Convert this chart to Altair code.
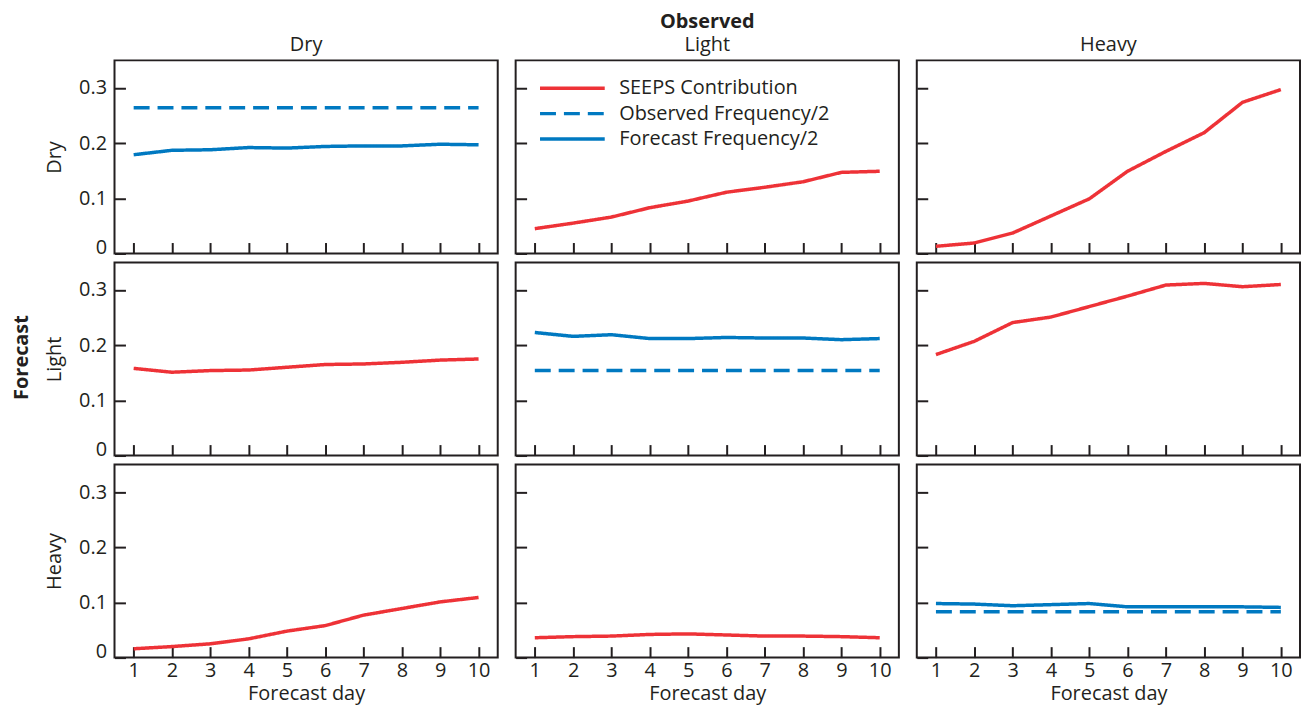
import altair as alt
import pandas as pd

# ---------------- data ----------------
days = [1, 2, 3, 4, 5, 6, 7, 8, 9, 10]
categories = ["Dry", "Light", "Heavy"]
series_names = ["SEEPS Contribution", "Observed Frequency/2", "Forecast Frequency/2"]
series_colors = ["#EE3237", "#0079C1", "#0079C1"]
series_dashes = [[1, 0], [16, 8], [1, 0]]
y_ticks = [0, 0.1, 0.2, 0.3]

# forecast Dry
dry_dry_obs = [0.264, 0.264, 0.264, 0.264, 0.264, 0.264, 0.264, 0.264, 0.264, 0.264]
dry_dry_fc = [0.179, 0.187, 0.188, 0.192, 0.191, 0.194, 0.195, 0.195, 0.198, 0.197]
dry_light_seeps = [0.045, 0.055, 0.066, 0.083, 0.095, 0.111, 0.120, 0.130, 0.147, 0.149]
dry_heavy_seeps = [0.013, 0.019, 0.037, 0.068, 0.099, 0.149, 0.185, 0.219, 0.274, 0.297]
# forecast Light
light_dry_seeps = [0.158, 0.151, 0.154, 0.155, 0.160, 0.165, 0.166, 0.169, 0.173, 0.175]
light_light_obs = [0.154, 0.154, 0.154, 0.154, 0.154, 0.154, 0.154, 0.154, 0.154, 0.154]
light_light_fc = [0.223, 0.216, 0.219, 0.212, 0.212, 0.214, 0.213, 0.213, 0.210, 0.212]
light_heavy_seeps = [0.183, 0.207, 0.241, 0.251, 0.270, 0.289, 0.309, 0.312, 0.306, 0.310]
# forecast Heavy
heavy_dry_seeps = [0.016, 0.020, 0.025, 0.034, 0.048, 0.058, 0.077, 0.089, 0.101, 0.109]
heavy_light_seeps = [0.036, 0.038, 0.039, 0.042, 0.043, 0.041, 0.039, 0.039, 0.038, 0.036]
heavy_heavy_obs = [0.083, 0.083, 0.083, 0.083, 0.083, 0.083, 0.083, 0.083, 0.083, 0.083]
heavy_heavy_fc = [0.098, 0.097, 0.094, 0.096, 0.098, 0.092, 0.092, 0.092, 0.092, 0.091]

panel_data = {
    ("Dry", "Dry"): {series_names[1]: dry_dry_obs, series_names[2]: dry_dry_fc},
    ("Dry", "Light"): {series_names[0]: dry_light_seeps},
    ("Dry", "Heavy"): {series_names[0]: dry_heavy_seeps},
    ("Light", "Dry"): {series_names[0]: light_dry_seeps},
    ("Light", "Light"): {series_names[1]: light_light_obs, series_names[2]: light_light_fc},
    ("Light", "Heavy"): {series_names[0]: light_heavy_seeps},
    ("Heavy", "Dry"): {series_names[0]: heavy_dry_seeps},
    ("Heavy", "Light"): {series_names[0]: heavy_light_seeps},
    ("Heavy", "Heavy"): {series_names[1]: heavy_heavy_obs, series_names[2]: heavy_heavy_fc},
}

# ---------------- style ----------------
INK = "#231f20"
FONT = "Open Sans"
FS = 20
W, H = 385, 194


def panel(i, j):
    fc = categories[i]
    ob = categories[j]
    recs = []
    for s, vals in panel_data[(fc, ob)].items():
        for d, v in zip(days, vals):
            recs.append({"day": d, "value": v, "series": s})
    df = pd.DataFrame(recs)

    xa = dict(values=days, domain=False, ticks=True, tickSize=11, offset=-11,
              grid=False, tickColor=INK, tickWidth=2)
    if i == 2:
        xa.update(labels=True, title="Forecast day", labelFontSize=FS, labelPadding=3,
                  labelColor=INK, titleFontSize=FS, titlePadding=3,
                  titleFontWeight="normal", titleColor=INK, labelFont=FONT, titleFont=FONT)
    else:
        xa.update(labels=False, title=None)

    ya = dict(values=y_ticks, domain=False, ticks=True, tickSize=11, offset=-11,
              grid=False, tickColor=INK, tickWidth=2)
    if j == 0:
        ya.update(labels=True, title=fc, labelFontSize=FS, labelPadding=8,
                  labelColor=INK, labelFont=FONT, titleFont=FONT,
                  labelExpr="datum.value == 0 ? '0' : format(datum.value, '.1f')",
                  labelBaseline={"condition": {"test": "datum.value == 0", "value": "alphabetic"},
                                 "value": "middle"},
                  titleFontSize=FS, titleFontWeight="normal", titleColor=INK, titlePadding=14)
    else:
        ya.update(labels=False, title=None)

    if i == 0 and j == 1:
        leg = alt.Legend(orient="none", legendX=45, legendY=16, title=None,
                         symbolType="M-3.25,0H3.25", symbolSize=400, symbolStrokeWidth=3.5,
                         labelFontSize=FS, labelFont=FONT, labelColor=INK, labelOffset=35,
                         labelLimit=400, rowPadding=3.5, padding=0)
    else:
        leg = None

    ch = alt.Chart(df).mark_line(strokeWidth=3.5).encode(
        x=alt.X("day:Q", scale=alt.Scale(domain=[0.5, 10.5], nice=False, zero=False),
                axis=alt.Axis(**xa)),
        y=alt.Y("value:Q", scale=alt.Scale(domain=[0, 0.35], nice=False),
                axis=alt.Axis(**ya)),
        color=alt.Color("series:N", scale=alt.Scale(domain=series_names, range=series_colors),
                        legend=leg),
        strokeDash=alt.StrokeDash("series:N",
                                  scale=alt.Scale(domain=series_names, range=series_dashes),
                                  legend=leg),
    ).properties(width=W, height=H)

    if i == 0:
        ch = ch.properties(title=alt.TitleParams(
            text="Observed" if j == 1 else " ", subtitle=ob,
            fontSize=FS, fontWeight="bold", font=FONT, color=INK,
            subtitleFontSize=FS, subtitleFontWeight="normal", subtitleFont=FONT,
            subtitleColor=INK, subtitlePadding=4, anchor="middle", offset=5))
    return ch


rows = []
for i in range(3):
    r = alt.hconcat(*[panel(i, j) for j in range(3)], spacing=15).resolve_legend(
        color="independent", strokeDash="independent")
    rows.append(r)

chart = alt.vconcat(*rows, spacing=3).resolve_legend(
    color="independent", strokeDash="independent"
).properties(
    title=alt.TitleParams("Forecast", orient="left", anchor="middle", fontSize=FS,
                          fontWeight="bold", font=FONT, color=INK, offset=12),
    padding={"left": 3, "top": 1, "right": 0, "bottom": 0},
).configure(font=FONT, background="white").configure_view(stroke=INK, strokeWidth=2)

chart.save("out.html", embed_options={"renderer": "svg", "actions": False})
